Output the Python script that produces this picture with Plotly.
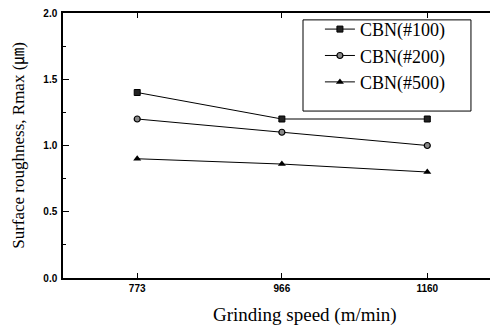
import plotly.graph_objects as go

speeds = [773, 966, 1160]
cbn100 = [1.40, 1.20, 1.20]
cbn200 = [1.20, 1.10, 1.00]
cbn500 = [0.90, 0.86, 0.80]
series_names = ["CBN(#100)", "CBN(#200)", "CBN(#500)"]
y_ticks = [0.0, 0.5, 1.0, 1.5, 2.0]
y_tick_labels = ["0.0", "0.5", "1.0", "1.5", "2.0"]
x_title = "Grinding speed (m/min)"
y_title = "Surface roughness, Rmax (㎛)"

fig = go.Figure()
fig.add_trace(go.Scatter(x=speeds, y=cbn100, name=series_names[0], mode="lines+markers",
                         line=dict(color="black", width=1),
                         marker=dict(symbol="square", size=6, color="#222", line=dict(color="black", width=1))))
fig.add_trace(go.Scatter(x=speeds, y=cbn200, name=series_names[1], mode="lines+markers",
                         line=dict(color="black", width=1),
                         marker=dict(symbol="circle", size=6, color="#888", line=dict(color="black", width=1.2))))
fig.add_trace(go.Scatter(x=speeds, y=cbn500, name=series_names[2], mode="lines+markers",
                         line=dict(color="black", width=1),
                         marker=dict(symbol="triangle-up", size=7, color="black")))

# legend frame
fig.add_shape(type="rect", xref="paper", yref="paper", x0=0.553, x1=0.940, y0=0.630, y1=0.974,
              line=dict(color="black", width=1), fillcolor="white", layer="below")

fig.add_annotation(text=x_title, xref="paper", yref="paper", x=0.558, y=-0.14,
                   xanchor="center", yanchor="middle", showarrow=False,
                   font=dict(family="Liberation Serif, serif", size=19, color="black"))
fig.add_annotation(text=y_title, xref="paper", yref="paper", x=-0.103, y=0.5,
                   xanchor="center", yanchor="middle", showarrow=False, textangle=-90,
                   font=dict(family="Liberation Serif, Noto Sans CJK KR, serif", size=17, color="black"))

# page body has an 8px margin, so the figure is sized/offset to land on the 498x329 window
fig.update_layout(
    width=490, height=321,
    margin=dict(l=55, r=1, t=5, b=51, autoexpand=False),
    paper_bgcolor="white", plot_bgcolor="white",
    showlegend=True,
    legend=dict(x=0.592, y=1.008, xanchor="left", yanchor="top",
                font=dict(family="Liberation Serif, serif", size=18, color="black"),
                bgcolor="rgba(0,0,0,0)", borderwidth=0, tracegroupgap=0, itemwidth=30),
    xaxis=dict(range=[674, 1253], tickvals=speeds, ticktext=[str(s) for s in speeds],
               ticks="inside", ticklen=5, tickwidth=1, tickcolor="black",
               showline=True, linecolor="black", linewidth=1.5, mirror="ticks",
               showgrid=False, zeroline=False, automargin=False, ticklabeloverflow="allow",
               tickfont=dict(family="Liberation Sans, Arial", size=10, color="black", weight="bold")),
    yaxis=dict(range=[0, 2.0], tickvals=y_ticks, ticktext=y_tick_labels,
               ticks="inside", ticklen=6, tickwidth=1, tickcolor="black",
               minor=dict(dtick=0.25, ticks="inside", ticklen=3, tickcolor="black"),
               showline=True, linecolor="black", linewidth=1.5, mirror="ticks",
               showgrid=False, zeroline=False, automargin=False, ticklabelstandoff=2,
               ticklabeloverflow="allow",
               tickfont=dict(family="Liberation Sans, Arial", size=10, color="black", weight="bold")),
)

fig.write_html("out.html")
